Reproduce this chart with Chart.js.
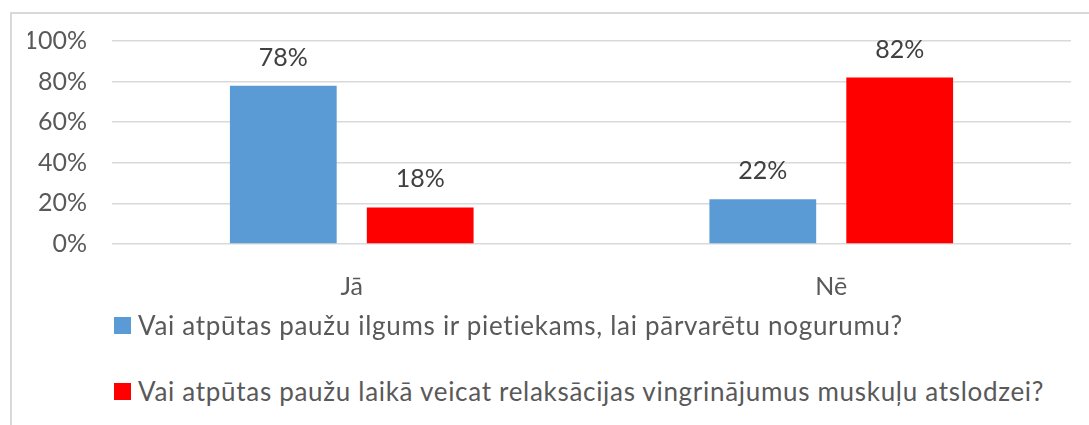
<!DOCTYPE html>
<html>
<head>
<meta charset="utf-8">
<script src="https://cdn.jsdelivr.net/npm/chart.js@4/dist/chart.umd.min.js"></script>
<style>
  body { margin: 0; background: #fff; width: 1089px; height: 425px; overflow: hidden; position: relative; }
  #frame { position: absolute; left: 10px; top: 12px; width: 1100px; height: 440px; border: 2px solid #d9d9d9; box-sizing: border-box; }
  #wrap { position: absolute; left: 0; top: 0; width: 1089px; height: 310px; }
  #legend { position: absolute; left: 114px; top: 0; font-family: Lato, sans-serif; font-size: 26px; letter-spacing: 0.7px; color: #595959; }
  .item { position: absolute; left: 0; white-space: nowrap; display: flex; align-items: center; height: 30px; }
  .box { width: 17px; height: 17px; margin-right: 7px; flex: none; }
</style>
</head>
<body>
<div id="frame"></div>
<div id="wrap"><canvas id="chart"></canvas></div>
<div id="legend"></div>
<script>
const categories = ["Jā", "Nē"];
const seriesNames = [
  "Vai atpūtas paužu ilgums ir pietiekams, lai pārvarētu nogurumu?",
  "Vai atpūtas paužu laikā veicat relaksācijas vingrinājumus muskuļu atslodzei?"
];
const lengthEnough = [78, 22];
const relaxExercises = [18, 82];
const yTicks = [0, 20, 40, 60, 80, 100];
const colors = ["#5b9bd5", "#ff0000"];

const fontFamily = "Lato, sans-serif";

// value labels above the bars
const barLabels = {
  id: "barLabels",
  afterDatasetsDraw(chart) {
    const ctx = chart.ctx;
    ctx.save();
    ctx.font = "25px " + fontFamily;
    ctx.fillStyle = "#404040";
    ctx.textAlign = "center";
    ctx.textBaseline = "alphabetic";
    chart.data.datasets.forEach((ds, i) => {
      chart.getDatasetMeta(i).data.forEach((bar, j) => {
        ctx.fillText(ds.data[j] + "%", bar.x, bar.y - 20);
      });
    });
    ctx.restore();
  }
};

const chart = new Chart(document.getElementById("chart"), {
  type: "bar",
  data: {
    labels: categories,
    datasets: [
      { label: seriesNames[0], data: lengthEnough, backgroundColor: colors[0] },
      { label: seriesNames[1], data: relaxExercises, backgroundColor: colors[1] }
    ]
  },
  options: {
    responsive: true,
    maintainAspectRatio: false,
    animation: false,
    categoryPercentage: 0.571,
    barPercentage: 0.78,
    layout: { padding: { left: 28, right: 18, top: 41, bottom: 10 } },
    plugins: {
      legend: { display: false },
      tooltip: { enabled: false }
    },
    scales: {
      x: {
        grid: { display: false },
        border: { display: false },
        ticks: { color: "#595959", font: { family: fontFamily, size: 25 }, padding: 20 },
        afterFit(scale) { scale.height = 56; }
      },
      y: {
        min: 0,
        max: 100,
        afterBuildTicks(scale) { scale.ticks = yTicks.map(v => ({ value: v })); },
        grid: { color: "#d9d9d9", lineWidth: 1.5, drawTicks: false },
        border: { display: false },
        ticks: {
          color: "#595959",
          font: { family: fontFamily, size: 25 },
          padding: 25,
          callback: v => v + "%"
        },
        afterFit(scale) { scale.width = 84; }
      }
    }
  },
  plugins: [barLabels]
});

// legend below the chart, one row per series
const legend = document.getElementById("legend");
const rowCenters = [325, 391];
chart.data.datasets.forEach((ds, i) => {
  const item = document.createElement("div");
  item.className = "item";
  item.style.top = (rowCenters[i] - 15) + "px";
  const box = document.createElement("span");
  box.className = "box";
  box.style.background = ds.backgroundColor;
  const text = document.createElement("span");
  text.textContent = ds.label;
  item.appendChild(box);
  item.appendChild(text);
  legend.appendChild(item);
});
</script>
</body>
</html>
